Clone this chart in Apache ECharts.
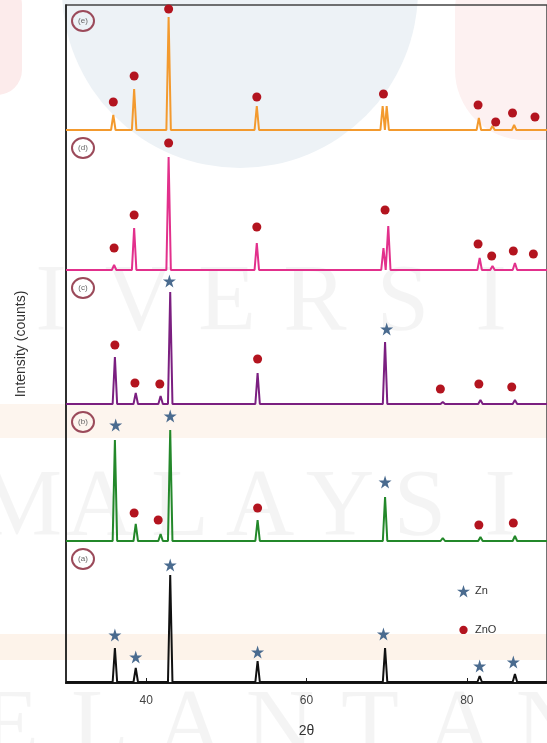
<!DOCTYPE html>
<html>
<head>
<meta charset="utf-8">
<script src="https://cdn.jsdelivr.net/npm/echarts@6/dist/echarts.min.js"></script>
<style>
  html, body { margin: 0; padding: 0; background: #fff; }
  #chart { width: 547px; height: 743px; }
</style>
</head>
<body>
<div id="chart"></div>
<script>
// 2-theta range and labelled ticks
var xMin = 30, xMax = 90;
var tickValues = [40, 60, 80];

// peaks: [2theta, intensity above baseline]
var peaksE = [[35.9, 15], [38.5, 41], [42.8, 113], [53.8, 24], [69.5, 24], [70.0, 24], [81.5, 12], [83.2, 4], [85.9, 5]];
var peaksD = [[36.0, 5], [38.5, 42], [42.8, 113], [53.8, 27], [69.6, 22], [70.2, 44], [81.6, 12], [83.2, 4], [86.0, 7]];
var peaksC = [[36.1, 47], [38.7, 11], [41.8, 8], [43.0, 112], [53.9, 31], [69.8, 62], [77.0, 2], [81.7, 4], [86.0, 4]];
var peaksB = [[36.1, 101], [38.7, 17], [41.8, 7], [43.0, 111], [53.9, 21], [69.8, 44], [77.0, 3], [81.7, 4], [86.0, 5]];
var peaksA = [[36.1, 34], [38.7, 14], [43.0, 107], [53.9, 21], [69.8, 34], [81.6, 6], [86.0, 8]];

// phase markers: Zn (stars), ZnO (dots)
var starsE = [];
var dotsE = [[35.9, 28], [38.5, 54], [42.8, 121], [53.8, 33], [69.6, 36], [81.4, 25], [83.6, 8], [85.7, 17], [88.5, 13]];
var starsD = [];
var dotsD = [[36.0, 22], [38.5, 55], [42.8, 127], [53.8, 43], [69.8, 60], [81.4, 26], [83.1, 14], [85.8, 19], [88.3, 16]];
var starsC = [[42.9, 123], [70.0, 75]];
var dotsC = [[36.1, 59], [38.6, 21], [41.7, 20], [53.9, 45], [76.7, 15], [81.5, 20], [85.6, 17]];
var starsB = [[36.2, 116], [43.0, 125], [69.8, 59]];
var dotsB = [[38.5, 28], [41.5, 21], [53.9, 33], [81.5, 16], [85.8, 18]];
var starsA = [[36.1, 47], [38.7, 25], [43.0, 117], [53.9, 30], [69.6, 48], [81.6, 16], [85.8, 20]];
var dotsA = [];

var starPath = 'path://M50,2 L61,36 L97,36 L68,57 L79,92 L50,71 L21,92 L32,57 L3,36 L39,36 Z';
var dotPath = 'path://M0,0 M100,100 M18,50 A32,32 0 1 1 82,50 A32,32 0 1 1 18,50 Z';

var panels = [
    { label: '(e)', color: '#f39a2e', peaks: peaksE, stars: starsE, dots: dotsE, top: 5, height: 125, yMin: 0 },
    { label: '(d)', color: '#e2308c', peaks: peaksD, stars: starsD, dots: dotsD, top: 130, height: 140, yMin: 0 },
    { label: '(c)', color: '#7b1f80', peaks: peaksC, stars: starsC, dots: dotsC, top: 270, height: 134, yMin: 0 },
    { label: '(b)', color: '#23882a', peaks: peaksB, stars: starsB, dots: dotsB, top: 404, height: 137, yMin: 0 },
    { label: '(a)', color: '#111111', peaks: peaksA, stars: starsA, dots: dotsA, top: 541, height: 143, yMin: -2 }
];

function buildTrace(peaks) {
    var pts = [[xMin, 0]];
    peaks.forEach(function (p) {
        pts.push([p[0] - 0.28, 0], [p[0], p[1]], [p[0] + 0.28, 0]);
    });
    pts.push([xMax, 0]);
    return pts;
}

var grids = [], xAxes = [], yAxes = [], series = [], graphics = [];

// faint watermark behind the plot
graphics.push(
    { type: 'circle', shape: { cx: 240, cy: -10, r: 178 }, style: { fill: '#edf2f6' }, z: -10, silent: true },
    { type: 'rect', shape: { x: 455, y: -60, width: 160, height: 200, r: 70 }, style: { fill: '#fdf1f1' }, z: -10, silent: true },
    { type: 'rect', shape: { x: -40, y: -20, width: 62, height: 115, r: 25 }, style: { fill: '#fcebeb' }, z: -10, silent: true },
    { type: 'rect', shape: { x: 0, y: 404, width: 547, height: 34 }, style: { fill: '#fdf5ee' }, z: -10, silent: true },
    { type: 'rect', shape: { x: 0, y: 634, width: 547, height: 26 }, style: { fill: '#fdf3ea' }, z: -10, silent: true }
);
var bgWords = [
    { text: 'UNIVERSITI', x0: -125, step: 88, y: 305 },
    { text: 'MALAYSIA', x0: 20, step: 80, y: 510 },
    { text: 'KELANTAN', x0: -80, step: 90, y: 730 }
];
bgWords.forEach(function (w) {
    for (var i = 0; i < w.text.length; ++i) {
        graphics.push({
            type: 'text', x: w.x0 + i * w.step, y: w.y, z: -9, silent: true,
            style: { text: w.text[i], font: '95px "Liberation Serif"', fill: 'rgba(0,0,0,0.045)', align: 'center', verticalAlign: 'middle' }
        });
    }
});

panels.forEach(function (p, i) {
    grids.push({ left: 66, right: -11, top: p.top, height: p.height });
    xAxes.push({ gridIndex: i, type: 'value', min: xMin, max: xMax, show: false });
    yAxes.push({ gridIndex: i, type: 'value', min: p.yMin, max: p.yMin + p.height, show: false });
    series.push({
        type: 'line', xAxisIndex: i, yAxisIndex: i, data: buildTrace(p.peaks),
        showSymbol: false, lineStyle: { color: p.color, width: 2 }, z: 3
    });
    if (p.stars.length) {
        series.push({
            name: 'Zn', type: 'scatter', xAxisIndex: i, yAxisIndex: i, data: p.stars, clip: false,
            symbol: starPath, symbolSize: 13, itemStyle: { color: '#4a6b8f', opacity: 1 }, z: 4
        });
    }
    if (p.dots.length) {
        series.push({
            name: 'ZnO', type: 'scatter', xAxisIndex: i, yAxisIndex: i, data: p.dots, clip: false,
            symbol: 'circle', symbolSize: 9, itemStyle: { color: '#b3141f', opacity: 1 }, z: 4
        });
    }
    graphics.push({
        type: 'group', x: 83, y: p.top + (i === 0 ? 16 : 18), z: 10,
        children: [
            { type: 'ellipse', shape: { cx: 0, cy: 0, rx: 11, ry: 10 }, style: { fill: 'none', stroke: '#9b4a5a', lineWidth: 2 } },
            { type: 'text', x: 0, y: 0, style: { text: p.label, font: '8px "Liberation Sans"', fill: '#666', align: 'center', verticalAlign: 'middle' } }
        ]
    });
});

// outer frame with the only visible axes
var fi = panels.length;
grids.push({ left: 66, right: -11, top: 5, bottom: 59, show: true, borderColor: '#444', borderWidth: 1.5, backgroundColor: 'transparent' });
xAxes.push({
    gridIndex: fi, type: 'value', min: xMin, max: xMax,
    name: '2θ', nameLocation: 'middle', nameGap: 41,
    nameTextStyle: { fontFamily: 'Liberation Sans', fontSize: 14, color: '#333' },
    axisLine: { lineStyle: { color: '#1a1a1a', width: 2 } },
    axisTick: { inside: true, length: 5, customValues: tickValues, lineStyle: { color: '#1a1a1a' } },
    axisLabel: { customValues: tickValues, margin: 12, fontFamily: 'Liberation Sans', fontSize: 12, color: '#444' },
    splitLine: { show: false }
});
yAxes.push({
    gridIndex: fi, type: 'value', min: 0, max: 1,
    name: 'Intensity (counts)', nameLocation: 'middle', nameGap: 38, nameRotate: 90,
    nameTextStyle: { fontFamily: 'Liberation Sans', fontSize: 14, color: '#333' },
    axisLine: { show: true, lineStyle: { color: '#1a1a1a', width: 1.5 } },
    axisTick: { show: false }, axisLabel: { show: false }, splitLine: { show: false }
});

var chart = echarts.init(document.getElementById('chart'));
chart.setOption({
    animation: false,
    backgroundColor: '#fff',
    grid: grids,
    xAxis: xAxes,
    yAxis: yAxes,
    legend: {
        orient: 'vertical', left: 452, top: 580, itemWidth: 13, itemHeight: 13, itemGap: 26,
        textStyle: { fontFamily: 'Liberation Sans', fontSize: 11, color: '#333' },
        data: [{ name: 'Zn', icon: starPath }, { name: 'ZnO', icon: dotPath }]
    },
    graphic: graphics,
    series: series
});
</script>
</body>
</html>
